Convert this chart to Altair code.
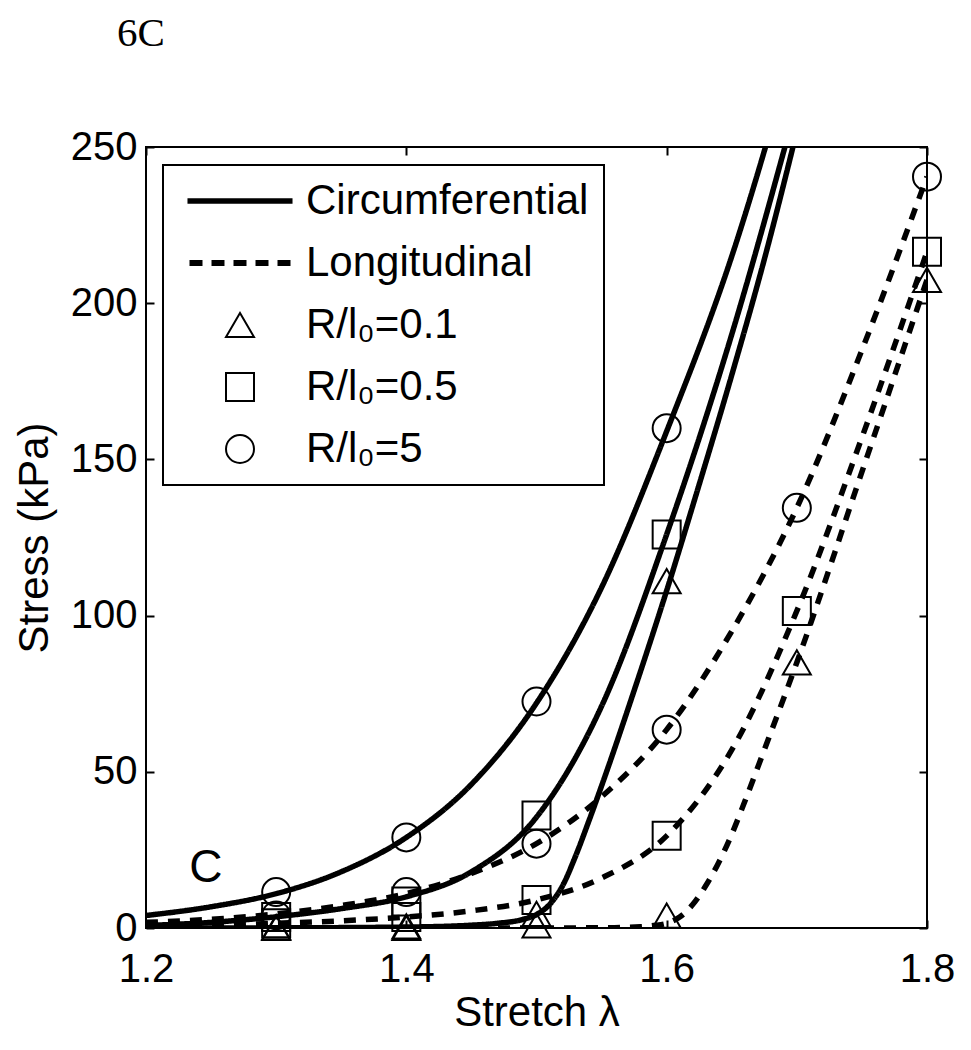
import altair as alt
import pandas as pd

# ---------------- data ----------------
# model curves (lines)
lam_c5 = [1.2, 1.25, 1.3, 1.35, 1.4, 1.45, 1.5, 1.55, 1.6, 1.65, 1.7]
s_c5 = [4.0, 6.8, 11.0, 18.0, 29.0, 46.0, 72.0, 109.0, 159.0, 215.0, 285.0]

lam_c05 = [1.2, 1.25, 1.3, 1.35, 1.4, 1.45, 1.5, 1.55, 1.6, 1.65, 1.7]
s_c05 = [0.8, 1.8, 3.6, 6.2, 10.0, 18.0, 35.5, 71.0, 126.0, 190.0, 264.0]

lam_c01 = [1.2, 1.3, 1.4, 1.45, 1.47, 1.49, 1.5, 1.51, 1.52, 1.53, 1.54, 1.55,
           1.575, 1.6, 1.625, 1.65, 1.675, 1.7]
s_c01 = [0.0, 0.05, 0.3, 0.9, 1.5, 2.8, 4.3, 7.5, 13.5, 23.0, 34.0, 45.5,
         76.0, 108.0, 142.0, 177.0, 214.0, 255.0]

lam_l5 = [1.2, 1.25, 1.3, 1.35, 1.4, 1.45, 1.5, 1.55, 1.6, 1.65, 1.7, 1.75, 1.8]
s_l5 = [1.8, 2.8, 4.5, 7.2, 11.0, 17.5, 27.0, 42.0, 63.5, 95.0, 134.5, 185.0, 240.5]

lam_l05 = [1.2, 1.25, 1.3, 1.35, 1.4, 1.45, 1.5, 1.55, 1.6, 1.65, 1.7, 1.75, 1.8]
s_l05 = [0.4, 0.8, 1.5, 2.3, 3.5, 5.5, 9.0, 16.0, 29.5, 57.0, 101.5, 157.0, 216.5]

lam_l01 = [1.2, 1.5, 1.56, 1.58, 1.59, 1.6, 1.61, 1.62, 1.63, 1.64, 1.65, 1.66,
           1.675, 1.7, 1.75, 1.8]
s_l01 = [0.0, 0.0, 0.1, 0.4, 0.8, 1.5, 3.5, 7.5, 13.5, 21.0, 30.0, 40.5,
         57.0, 85.0, 146.0, 207.5]

# measured points (markers)
mk_lam_c = [1.3, 1.4, 1.5, 1.6]
mk_c5 = [11.5, 29.0, 72.5, 160.0]
mk_c05 = [3.5, 8.5, 36.0, 126.0]
mk_c01 = [0.3, 0.5, 4.5, 111.0]

mk_lam_l = [1.3, 1.4, 1.5, 1.6, 1.7, 1.8]
mk_l5 = [4.0, 11.5, 27.0, 63.5, 134.5, 240.5]
mk_l05 = [1.5, 3.5, 9.0, 29.5, 101.5, 216.5]
mk_l01 = [0.0, 0.0, 0.8, 4.0, 85.0, 207.5]

# labels
dir_names = ["Circumferential", "Longitudinal"]
ratio_names = ["R/l\u2080=0.1", "R/l\u2080=0.5", "R/l\u2080=5"]
x_ticks = [1.2, 1.4, 1.6, 1.8]
y_ticks = [0, 50, 100, 150, 200, 250]
panel_letter = ["C"]
panel_lam = [1.246]
panel_s = [14.7]

# ---------------- tables ----------------
rows = []
for lam, s, d, r in [
    (lam_c5, s_c5, dir_names[0], ratio_names[2]),
    (lam_c05, s_c05, dir_names[0], ratio_names[1]),
    (lam_c01, s_c01, dir_names[0], ratio_names[0]),
    (lam_l5, s_l5, dir_names[1], ratio_names[2]),
    (lam_l05, s_l05, dir_names[1], ratio_names[1]),
    (lam_l01, s_l01, dir_names[1], ratio_names[0]),
]:
    for a, b in zip(lam, s):
        rows.append({"lam": a, "stress": b, "dir": d, "key": r, "series": d + r})
lines_df = pd.DataFrame(rows)

prow = []
for lam, s, d, r in [
    (mk_lam_c, mk_c5, dir_names[0], ratio_names[2]),
    (mk_lam_c, mk_c05, dir_names[0], ratio_names[1]),
    (mk_lam_c, mk_c01, dir_names[0], ratio_names[0]),
    (mk_lam_l, mk_l5, dir_names[1], ratio_names[2]),
    (mk_lam_l, mk_l05, dir_names[1], ratio_names[1]),
    (mk_lam_l, mk_l01, dir_names[1], ratio_names[0]),
]:
    for a, b in zip(lam, s):
        prow.append({"lam": a, "stress": b, "dir": d, "key": r})
pts_df = pd.DataFrame(prow)

txt_df = pd.DataFrame({"lam": panel_lam, "stress": panel_s, "t": panel_letter})

# ---------------- styling ----------------
FONT = "Liberation Sans"
legend_domain = dir_names + ratio_names
solid_path = "M-3.68,-0.125H3.68V0.125H-3.68Z"
dash_path = ("M-3.536,-0.143H-2.75V0.143H-3.536Z"
             "M-1.964,-0.143H-1.179V0.143H-1.964Z"
             "M-0.393,-0.143H0.393V0.143H-0.393Z"
             "M1.179,-0.143H1.964V0.143H1.179Z"
             "M2.75,-0.143H3.536V0.143H2.75Z")

xscale = alt.Scale(domain=[1.2, 1.8], nice=False, zero=False)
yscale = alt.Scale(domain=[0, 250], nice=False)

lines = alt.Chart(lines_df).mark_line(
    color="black", strokeWidth=5.5, clip=True, interpolate="monotone"
).encode(
    x=alt.X("lam:Q", scale=xscale,
            axis=alt.Axis(orient="bottom", values=x_ticks, format=".1f",
                          offset=-8, labelPadding=21, labelFlush=False,
                          title="Stretch \u03bb", titlePadding=3)),
    y=alt.Y("stress:Q", scale=yscale,
            axis=alt.Axis(orient="left", values=y_ticks, format="d",
                          offset=-8, labelPadding=9,
                          title="Stress (kPa)", titlePadding=14)),
    strokeDash=alt.StrokeDash("dir:N", legend=None,
                              scale=alt.Scale(domain=dir_names,
                                              range=[[1, 0], [12, 10]])),
    detail="series:N",
)

legend = alt.Legend(title=None, orient="none", legendX=17, legendY=18,
                    strokeColor="black", padding=15, symbolOffset=41,
                    labelOffset=45, rowPadding=20, labelLimit=500,
                    labelFontSize=42, labelFont=FONT, labelColor="black",
                    symbolStrokeColor="black", symbolStrokeWidth=2,
                    fillColor="white")

points = alt.Chart(pts_df).mark_point(
    filled=True, strokeWidth=2, opacity=1
).encode(
    x=alt.X("lam:Q", scale=xscale,
            axis=alt.Axis(orient="top", values=x_ticks, labels=False,
                          offset=-8, title=None)),
    y=alt.Y("stress:Q", scale=yscale,
            axis=alt.Axis(orient="right", values=y_ticks, labels=False,
                          offset=-8, title=None)),
    shape=alt.Shape("key:N", legend=legend,
                    scale=alt.Scale(domain=legend_domain,
                                    range=[solid_path, dash_path,
                                           "triangle-up", "square", "circle"])),
    size=alt.Size("key:N", legend=legend,
                  scale=alt.Scale(domain=legend_domain,
                                  range=[784, 784, 784, 441, 625])),
    fill=alt.Fill("key:N", legend=legend,
                  scale=alt.Scale(domain=legend_domain,
                                  range=["black", "black", "transparent",
                                         "transparent", "transparent"])),
    stroke=alt.Stroke("key:N", legend=legend,
                      scale=alt.Scale(domain=legend_domain,
                                      range=["black", "black", "black",
                                             "black", "black"])),
)

letter = alt.Chart(txt_df).mark_text(
    font=FONT, fontSize=46, color="black", align="center", baseline="alphabetic"
).encode(
    x=alt.X("lam:Q", scale=xscale, axis=None),
    y=alt.Y("stress:Q", scale=yscale, axis=None),
    text="t:N",
)

chart = alt.layer(lines, points, letter).resolve_axis(
    x="independent", y="independent"
).properties(
    width=781, height=781,
    autosize=alt.AutoSizeParams(type="none"),
    padding={"left": 138, "top": 139, "right": 32, "bottom": 112},
    title=alt.TitleParams(text="6C", font="Liberation Serif", fontSize=41,
                          fontWeight="normal", color="black", anchor="start",
                          frame="group", dx=-29, offset=40,
                          baseline="alphabetic"),
).configure_view(
    stroke="black", strokeWidth=2
).configure_axis(
    labelFont=FONT, labelFontSize=40, labelColor="black",
    titleFont=FONT, titleFontSize=42, titleFontWeight="normal",
    titleColor="black", tickColor="black", tickWidth=2, tickSize=8,
    domain=False, grid=False
).configure_legend(
    strokeWidth=2
)

chart.save("out.html", embed_options={"renderer": "svg", "actions": False})
